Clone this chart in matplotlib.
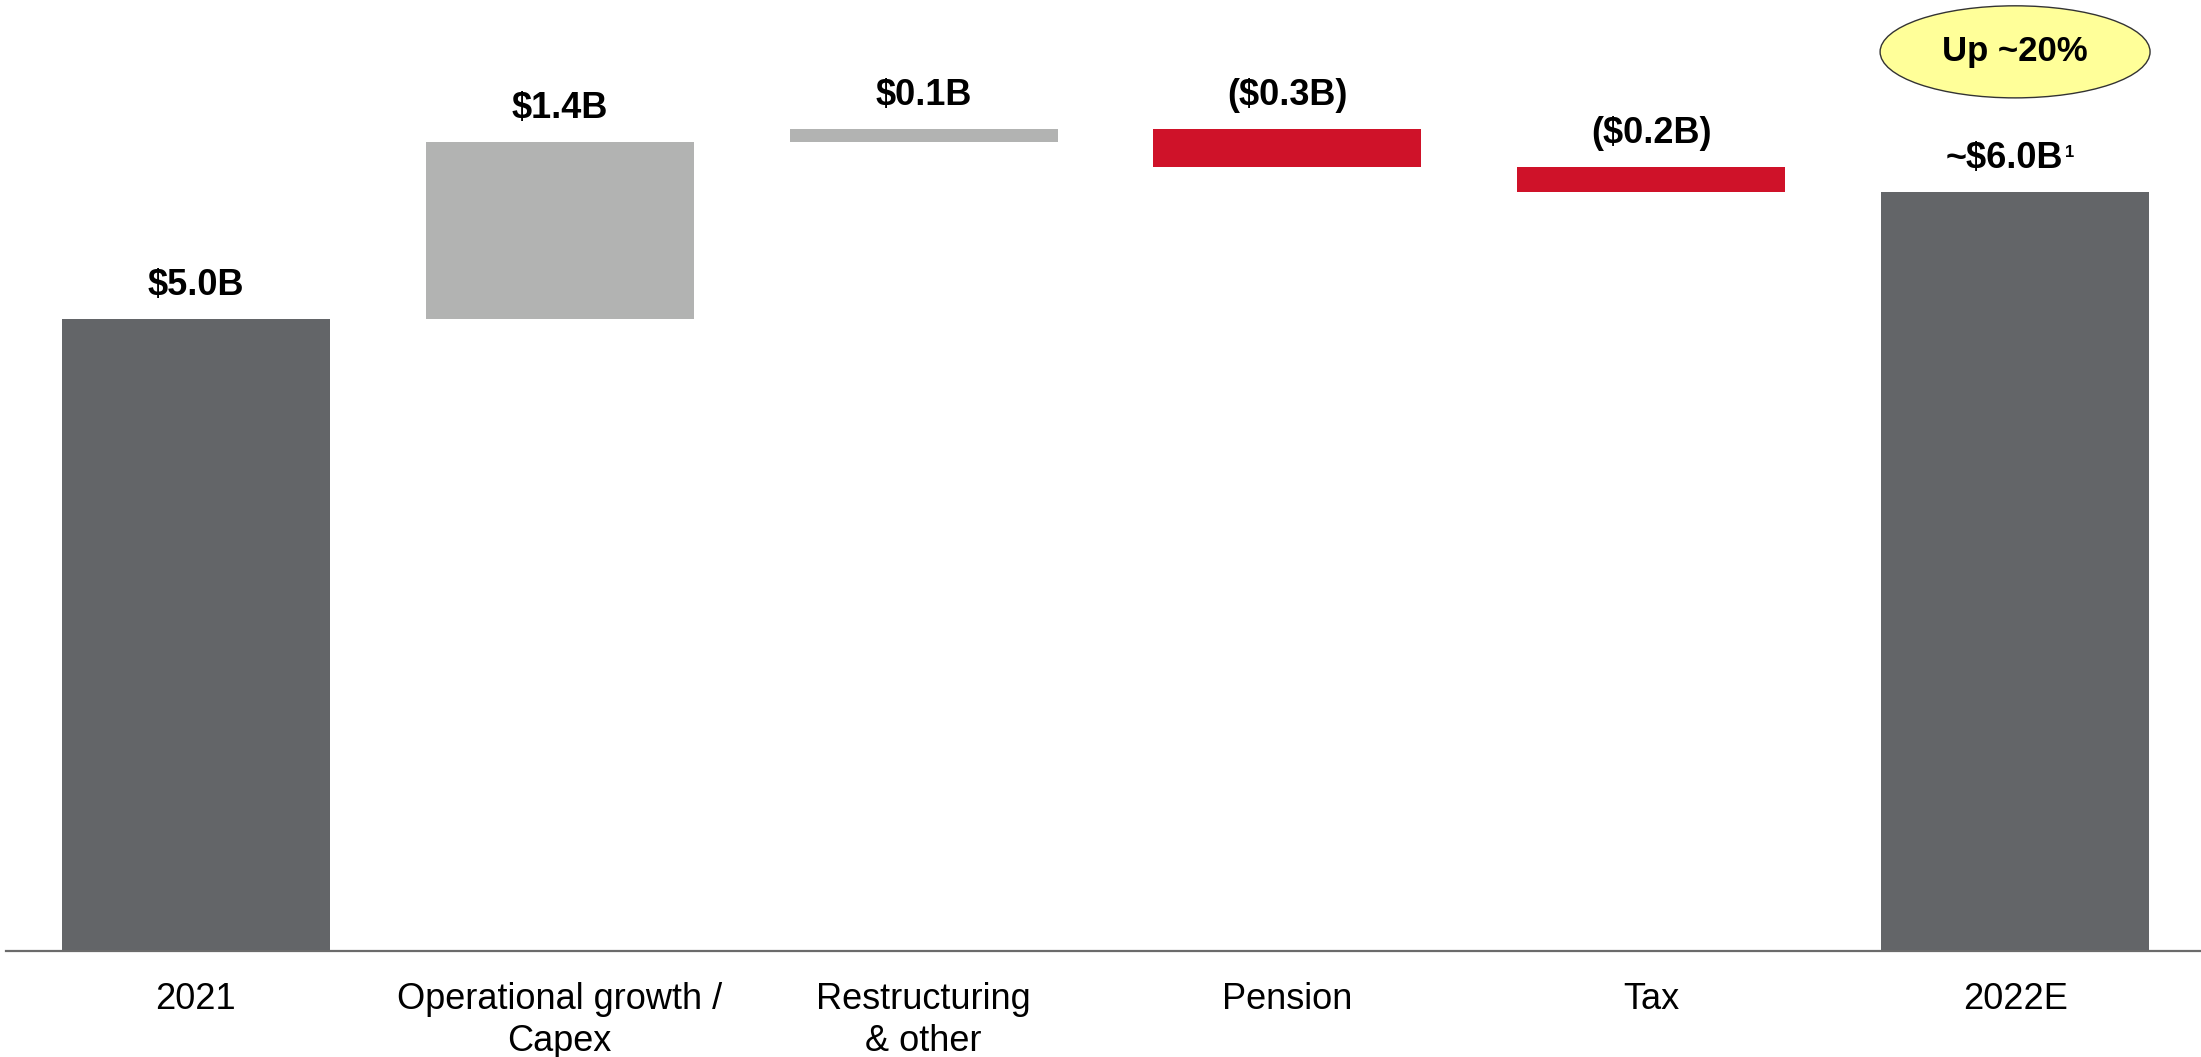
import matplotlib.pyplot as plt
import numpy as np
from matplotlib.patches import Ellipse

plt.rcParams['font.family'] = ['Liberation Sans', 'DejaVu Sans']

# waterfall: opening total, changes, closing total
categories = ['2021', 'Operational growth /\nCapex', 'Restructuring\n& other',
              'Pension', 'Tax', '2022E']
start_value = 5.0
changes = [1.4, 0.1, -0.3, -0.2]
end_value = 6.0
value_labels = ['$5.0B', '$1.4B', '$0.1B', '($0.3B)', '($0.2B)', '~$6.0B']
callout_text = 'Up ~20%'

DARK = '#636568'
LIGHT = '#b2b3b2'
RED = '#cf1229'

# bottoms and heights for each bar
running = start_value + np.cumsum([0] + changes)
bottoms = [0.0]
heights = [start_value]
colors = [DARK]
for prev, ch in zip(running[:-1], changes):
    bottoms.append(prev if ch >= 0 else prev + ch)
    heights.append(abs(ch))
    colors.append(LIGHT if ch >= 0 else RED)
bottoms.append(0.0)
heights.append(end_value)
colors.append(DARK)
tops = [b + h for b, h in zip(bottoms, heights)]

fig = plt.figure(figsize=(22.01, 10.57), dpi=100)
ax = fig.add_axes([6 / 2201, 106 / 1057, 2195 / 2201, 951 / 1057])

x = np.arange(len(categories))
ax.bar(x, heights, bottom=bottoms, width=0.737, color=colors, linewidth=0, zorder=2)

ax.set_xlim(-0.522, 5.511)
ax.set_ylim(0, 7.52)

for i, (top, lab) in enumerate(zip(tops, value_labels)):
    last = i == len(categories) - 1
    dx = -8 if last else 0
    t = ax.annotate(lab, xy=(i, top), xytext=(dx, 17.3), textcoords='offset points',
                    ha='center', va='baseline', fontsize=26, fontweight='bold')
    if last:
        # footnote marker after the closing total
        ax.annotate('1', xy=(1, 0.9), xycoords=t, xytext=(2, 0),
                    textcoords='offset points', ha='left', va='top',
                    fontsize=12, fontweight='bold')

# callout bubble over the closing bar
ell = Ellipse((5, 7.11), width=0.742, height=0.728, facecolor='#ffff99',
              edgecolor='#333333', linewidth=1.0, clip_on=False, zorder=3)
ax.add_patch(ell)
ax.text(5, 7.11, callout_text, ha='center', va='center', fontsize=25,
        fontweight='bold', zorder=4)

for side in ['top', 'left', 'right']:
    ax.spines[side].set_visible(False)
ax.spines['bottom'].set_color('#6b6b6b')
ax.spines['bottom'].set_linewidth(1.6)
ax.set_yticks([])
ax.set_xticks(x)
ax.set_xticklabels(categories, fontsize=26, linespacing=1.28)
ax.tick_params(axis='x', length=0, pad=22)

fig.savefig('out.png', dpi=100)
